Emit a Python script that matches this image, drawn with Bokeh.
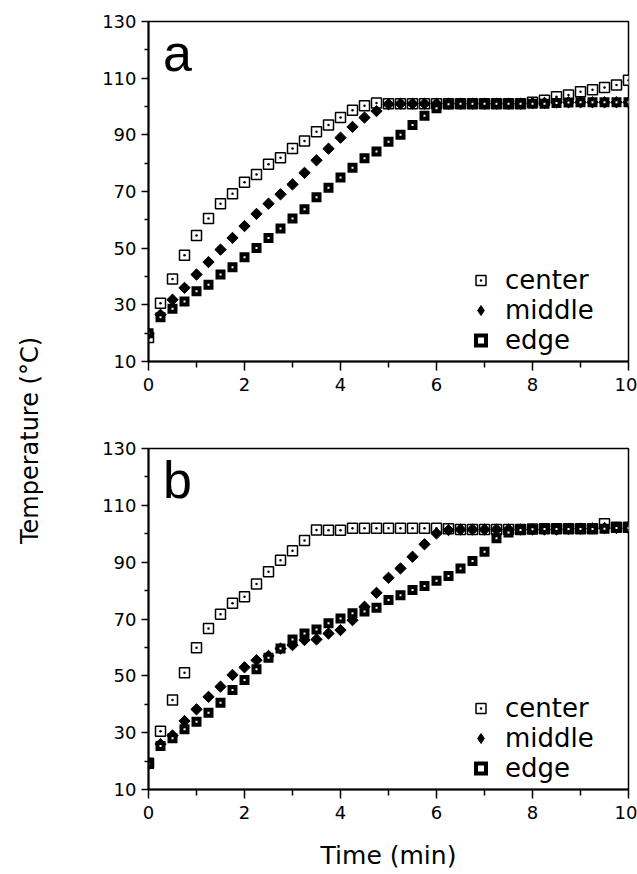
import math
from bokeh.plotting import figure
from bokeh.layouts import row, column
from bokeh.models import FixedTicker, Range1d, Legend, LegendItem, Label
from bokeh.core.properties import value
from bokeh.embed import file_html
from bokeh.resources import INLINE

# ---------------- data ----------------
time_min = [0, 0.25, 0.5, 0.75, 1, 1.25, 1.5, 1.75, 2, 2.25, 2.5, 2.75, 3, 3.25,
            3.5, 3.75, 4, 4.25, 4.5, 4.75, 5, 5.25, 5.5, 5.75, 6, 6.25, 6.5, 6.75,
            7, 7.25, 7.5, 7.75, 8, 8.25, 8.5, 8.75, 9, 9.25, 9.5, 9.75, 10]

a_center = [18.5, 30.6, 39.1, 47.5, 54.5, 60.5, 65.7, 69.2, 73.3, 76.0, 79.6, 81.9,
            85.2, 87.8, 91.1, 93.5, 96.1, 98.7, 100.3, 101.2, 101, 101, 101, 101,
            101, 101, 101, 101, 101, 101, 101, 101, 101.5, 102.2, 103.4, 104.1,
            105.2, 105.9, 106.7, 107.6, 109.3]
a_middle = [20, 26.5, 31.8, 36.0, 40.7, 45.1, 49.5, 53.6, 57.8, 62.1, 65.7, 69.0,
            72.5, 76.6, 81.0, 85.1, 89.0, 92.8, 96.1, 98.4, 100.8, 101, 101, 101,
            101, 101, 101, 101, 101, 101, 101, 101, 101.2, 101.3, 101.4, 101.5,
            101.5, 101.5, 101.5, 101.5, 101.5]
a_edge = [20, 25.6, 28.6, 31.2, 34.8, 37.1, 40.7, 43.3, 46.8, 50.1, 53.6, 56.9,
          60.5, 63.7, 68.0, 71.3, 74.9, 78.4, 81.7, 84.1, 87.6, 90.0, 93.5, 96.7,
          99.4, 100.8, 101, 101, 101, 101, 101, 101, 101, 101, 101.2, 101.4,
          101.5, 101.5, 101.5, 101.5, 101.5]

b_center = [19.2, 30.5, 41.5, 51.1, 59.9, 66.7, 71.7, 75.5, 77.8, 82.3, 86.6, 90.7,
            94.0, 97.6, 101.3, 101.2, 101.2, 101.9, 101.9, 101.9, 101.9, 101.9,
            101.9, 101.9, 101.9, 101.8, 101.5, 101.5, 101.5, 101.5, 101.5, 101.5,
            101.7, 101.8, 101.8, 101.8, 101.8, 101.8, 103.5, 102.3, 102.3]
b_middle = [19, 26, 29, 34.1, 38.2, 42.6, 46.2, 50.3, 53.0, 55.5, 57.0, 59.6, 60.8,
            62.6, 62.8, 64.9, 66.1, 69.6, 74.3, 79.2, 84.5, 87.8, 91.9, 96.3, 100.1,
            101.3, 101.5, 101.5, 101.5, 101.5, 101.5, 101.5, 101.5, 101.5, 101.5,
            101.7, 101.8, 101.9, 102, 102, 102]
b_edge = [19, 25.3, 28.0, 31.2, 33.8, 37.0, 40.5, 45.0, 48.5, 52.3, 56.4, 59.6, 62.8,
          64.9, 66.3, 68.5, 70.2, 72.0, 72.6, 74.0, 76.7, 78.4, 80.2, 81.6, 83.5,
          85.1, 87.8, 90.4, 93.7, 98.4, 100.4, 101.3, 101.6, 101.7, 101.7, 101.7,
          101.7, 101.7, 101.8, 102, 102]

y_ticks = [10, 30, 50, 70, 90, 110, 130]
y_minor = [20, 40, 60, 80, 100, 120]
x_ticks = [0, 2, 4, 6, 8, 10]
x_minor = [1, 3, 5, 7, 9]
series_names = ["center", "middle", "edge"]

FONT = "DejaVu Sans"
LABEL_W = 55
TOTAL_W = 637


def panel(letter, center, middle, edge, height, top, bottom, xlabel):
    p = figure(width=TOTAL_W - LABEL_W, height=height, output_backend="svg",
               toolbar_location=None, x_range=Range1d(0, 10), y_range=Range1d(10, 130),
               min_border_left=148 - LABEL_W, min_border_right=9,
               min_border_top=top, min_border_bottom=bottom)
    p.grid.visible = False
    p.background_fill_color = "white"
    p.border_fill_color = "white"
    p.outline_line_color = "black"
    p.outline_line_width = 1.5
    p.outline_line_alpha = 1

    for ax in (p.xaxis[0], p.yaxis[0]):
        ax.axis_line_width = 2
        ax.axis_line_color = "black"
        ax.major_tick_line_color = "black"
        ax.minor_tick_line_color = "black"
        ax.major_tick_line_width = 1.5
        ax.minor_tick_line_width = 1.5
        ax.major_tick_in = 0
        ax.minor_tick_in = 0
        ax.major_label_text_font = FONT
        ax.major_label_text_font_size = "18px"
        ax.major_label_text_color = "black"

    p.yaxis.ticker = FixedTicker(ticks=y_ticks, minor_ticks=y_minor)
    p.yaxis.major_tick_out = 7
    p.yaxis.minor_tick_out = 4
    p.yaxis.major_label_standoff = 5

    p.xaxis.ticker = FixedTicker(ticks=x_ticks, minor_ticks=x_minor)
    p.xaxis.major_tick_out = 9
    p.xaxis.minor_tick_out = 6
    p.xaxis.major_label_standoff = 7
    if xlabel:
        p.xaxis.axis_label = xlabel
        p.xaxis.axis_label_text_font = FONT
        p.xaxis.axis_label_text_font_size = "25px"
        p.xaxis.axis_label_text_font_style = "normal"
        p.xaxis.axis_label_text_color = "black"
        p.xaxis.axis_label_standoff = 19

    rc = p.scatter(time_min, center, marker="square_dot", size=10,
                   fill_color="white", line_color="black", line_width=1.5)
    p.scatter(time_min, middle, marker="square", size=8, angle=math.pi / 4,
              fill_color="black", line_color="black", line_width=1)
    # legend swatch for the diamonds (legend swatches do not rotate markers);
    # it re-draws only the first middle point, which is hidden under the others
    rm_key = p.scatter(time_min[:1], middle[:1], marker="diamond", size=12,
                       fill_color="black", line_color="black", line_width=1)
    re = p.scatter(time_min, edge, marker="square", size=6,
                   fill_color="white", line_color="black", line_width=4,
                   line_join="miter")

    legend = Legend(items=[LegendItem(label=series_names[0], renderers=[rc]),
                           LegendItem(label=series_names[1], renderers=[rm_key]),
                           LegendItem(label=series_names[2], renderers=[re])],
                    location=(320, 6))
    legend.border_line_alpha = 0
    legend.background_fill_alpha = 0
    legend.label_text_font = FONT
    legend.label_text_font_size = "26px"
    legend.label_text_color = "black"
    legend.glyph_width = 25
    legend.glyph_height = 30
    legend.label_height = 30
    legend.label_standoff = 12
    legend.spacing = 0
    legend.padding = 0
    legend.margin = 0
    p.add_layout(legend)

    p.add_layout(Label(x=0.3, y=119, text=letter, text_font="Liberation Sans",
                       text_font_size="52px", text_color="black",
                       text_baseline="alphabetic"))
    return p


pa = panel("a", a_center, a_middle, a_edge, height=410, top=21, bottom=49, xlabel=None)
pb = panel("b", b_center, b_middle, b_edge, height=464, top=38, bottom=85, xlabel="Time (min)")

# shared y-axis title
lab = figure(width=LABEL_W, height=874, output_backend="svg", toolbar_location=None,
             x_range=Range1d(0, LABEL_W), y_range=Range1d(0, 874),
             min_border=0)
lab.axis.visible = False
lab.grid.visible = False
lab.outline_line_color = None
lab.text(x=[29], y=[874 - 440], text=["Temperature (°C)"], angle=math.pi / 2,
         text_font=value(FONT), text_font_size="24px", text_align="center",
         text_baseline="middle", text_color="black")

layout = row(lab, column(pa, pb))
open("out.html", "w").write(file_html(layout, INLINE))
